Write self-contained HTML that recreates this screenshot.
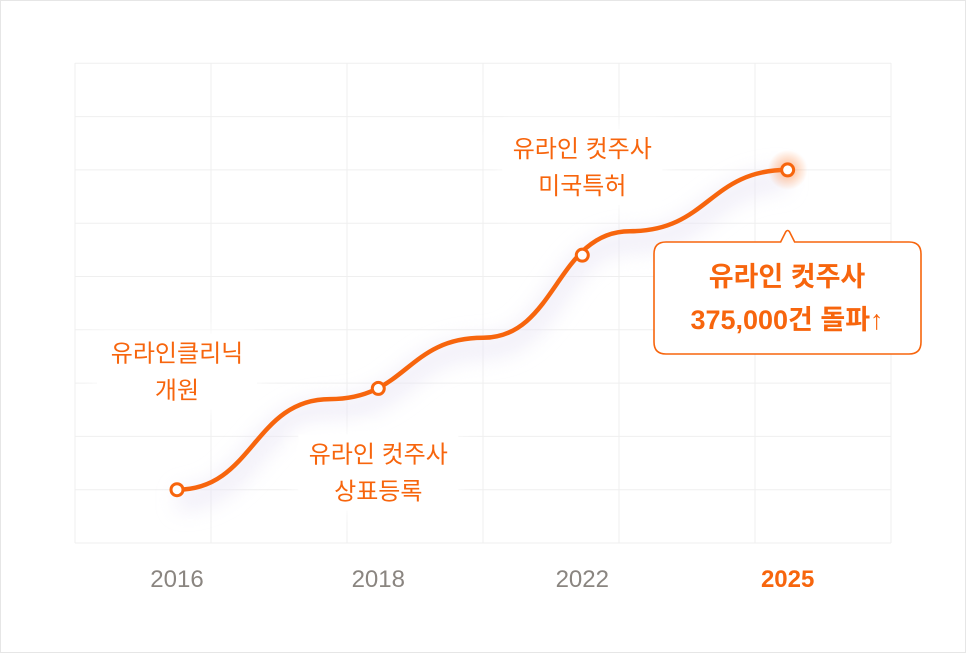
<!DOCTYPE html>
<html><head><meta charset="utf-8"><style>
html,body{margin:0;padding:0;background:#fff;}
#wrap{position:relative;width:964px;height:651px;border:1px solid #e6e6e6;background:#fff;overflow:hidden;font-family:"Liberation Sans","Noto Sans CJK KR",sans-serif;}
svg{position:absolute;left:-1px;top:-1px;}
</style></head><body>
<div id="wrap">
<svg id="chart" width="966" height="653"></svg>
</div>
<script>
const years = ["2016","2018","2022","2025"];
const milestoneX = [0.75, 2.23, 3.73, 5.24];
const milestoneY = [1, 2.9, 5.4, 7];
const curveX = [0.75, 1.875, 3, 4.08, 5.24];
const curveY = [1, 2.7, 3.85, 5.85, 7];
const labelLines = [["유라인클리닉","개원"],["유라인 컷주사","상표등록"],["유라인 컷주사","미국특허"]];
const labelDy = [-128, 74, -98];

const NS="http://www.w3.org/2000/svg";
const svg=document.getElementById('chart');
const X0=75, XS=136, Y0=543, YS=53.3;
const sx=u=>X0+u*XS, sy=v=>Y0-v*YS;
const ORANGE="#f7650d";
function mk(t,a,p){const e=document.createElementNS(NS,t);for(const k in a)e.setAttribute(k,a[k]);(p||svg).appendChild(e);return e;}

const defs=mk('defs',{});
defs.innerHTML='<filter id="blur" x="-20%" y="-20%" width="140%" height="140%"><feGaussianBlur stdDeviation="10"/></filter><radialGradient id="glow"><stop offset="0" stop-color="#ff7a2a" stop-opacity="0.55"/><stop offset="1" stop-color="#ff7a2a" stop-opacity="0"/></radialGradient>';

const grid=mk('g',{});


for(let i=0;i<=9;i++){const y=Y0-i*53.3;const l=mk('line',{x1:75,x2:891,y1:y,y2:y,stroke:"#efefef","stroke-width":1},grid);}
for(let i=0;i<=6;i++){const x=X0+i*XS;const l=mk('line',{x1:x,x2:x,y1:63,y2:543,stroke:"#efefef","stroke-width":1},grid);}

let d=`M${sx(curveX[0])},${sy(curveY[0])}`;
for(let i=1;i<curveX.length;i++){const x0=sx(curveX[i-1]),y0=sy(curveY[i-1]),x1=sx(curveX[i]),y1=sy(curveY[i]);const m=(x0+x1)/2;d+=` C${m},${y0} ${m},${y1} ${x1},${y1}`;}
const sh=mk('path',{d:d,fill:"none",stroke:"#e8e4f4","stroke-width":22,filter:"url(#blur)",transform:"translate(0,10)",opacity:0.6});



labelLines.forEach((ls,i)=>{
 const cx=sx(milestoneX[i]), top=sy(milestoneY[i])+labelDy[i];
 const bg=mk('rect',{x:cx-82,y:top-32,width:164,height:84,fill:"#fff",filter:"url(#blur)"});
 
 
 const bg2=mk('rect',{x:cx-80,y:top-28,width:160,height:76,fill:"#fff"});
 
 
 ls.forEach((t,j)=>{const tx=mk('text',{x:cx,y:top+j*37,"text-anchor":"middle","font-size":24,fill:ORANGE,"font-family":'"Liberation Sans","Noto Sans CJK KR",sans-serif'});tx.textContent=t;});
});

const line=mk('path',{d:d,fill:"none",stroke:ORANGE,"stroke-width":4.5,"stroke-linecap":"round"});



const last=milestoneX.length-1;
const g=mk('circle',{cx:sx(milestoneX[last]),cy:sy(milestoneY[last]),r:20,fill:"url(#glow)"});


milestoneX.forEach((u,i)=>{const c=mk('circle',{cx:sx(u),cy:sy(milestoneY[i]),r:6,fill:"#fff",stroke:ORANGE,"stroke-width":3});});

years.forEach((y,i)=>{const t=mk('text',{x:sx(milestoneX[i]),y:587,"text-anchor":"middle","font-size":24,fill:i==last?ORANGE:"#8a8580","font-weight":i==last?"bold":"normal"});t.textContent=y;});

const cx=sx(milestoneX[last]);
const cp=mk('path',{d:`M666,242 L${cx-7},242 L${cx-2},232 Q${cx},229 ${cx+2},232 L${cx+7},242 L909,242 Q921,242 921,254 L921,342 Q921,354 909,354 L666,354 Q654,354 654,342 L654,254 Q654,242 666,242 Z`,fill:"#fff",stroke:ORANGE,"stroke-width":1.6});


[["유라인 컷주사",286],["375,000건 돌파↑",329]].forEach(([t,y])=>{const tx=mk('text',{x:787,y:y,"text-anchor":"middle","font-size":27,"font-weight":"bold",fill:ORANGE});tx.textContent=t;});
</script>
</body></html>
